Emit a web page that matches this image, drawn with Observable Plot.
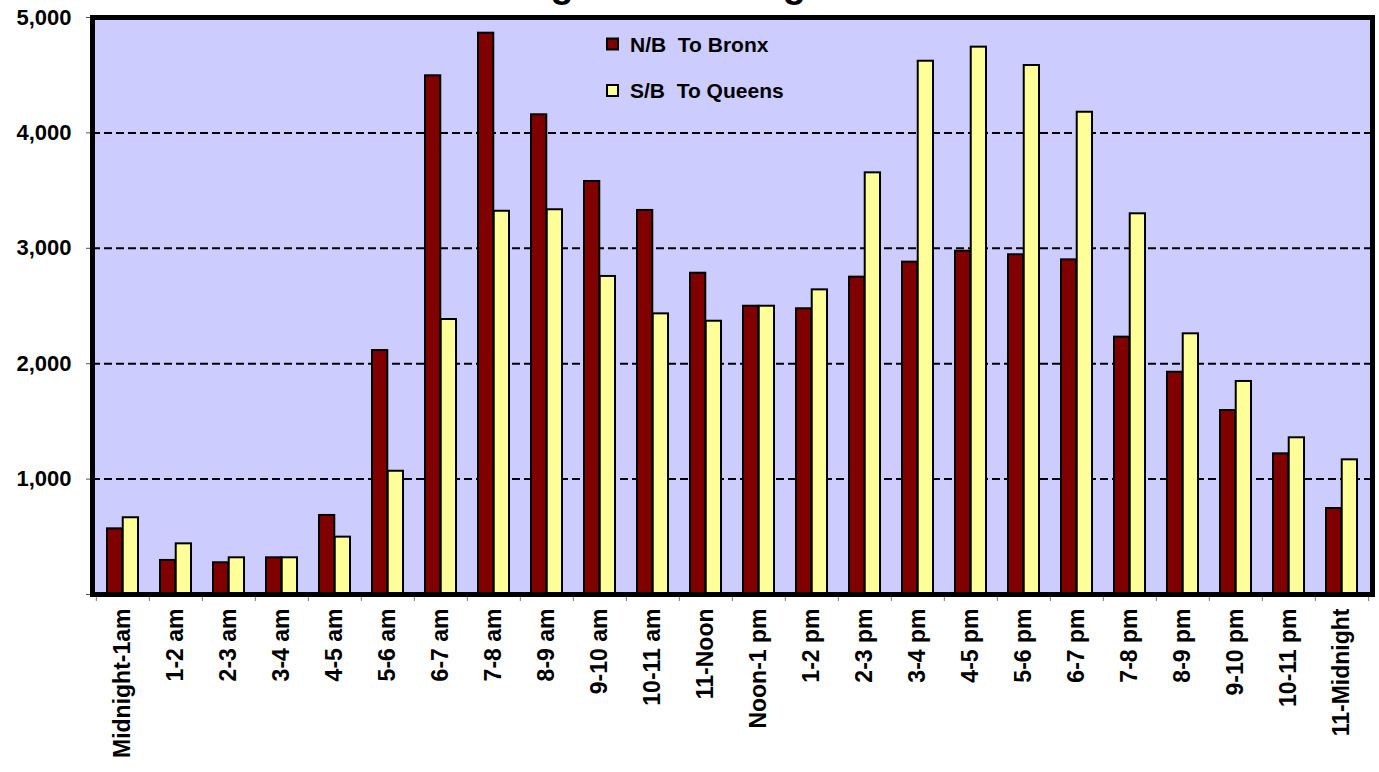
<!DOCTYPE html>
<html>
<head>
<meta charset="utf-8">
<script src="https://cdn.jsdelivr.net/npm/d3@7"></script>
<script src="https://cdn.jsdelivr.net/npm/@observablehq/plot@0.6"></script>
<style>
  html, body { margin: 0; padding: 0; background: #fff; }
  #wrap { position: relative; width: 1379px; height: 772px; overflow: hidden; font-family: "Liberation Sans", Arial, sans-serif; }
  #overlay { position: absolute; left: 0; top: 0; pointer-events: none; overflow: visible; }
</style>
</head>
<body>
<div id="wrap"></div>
<script>
// ---- data ----
const hours = ["Midnight-1am","1-2 am","2-3 am","3-4 am","4-5 am","5-6 am","6-7 am","7-8 am","8-9 am","9-10 am","10-11 am","11-Noon","Noon-1 pm","1-2 pm","2-3 pm","3-4 pm","4-5 pm","5-6 pm","6-7 pm","7-8 pm","8-9 pm","9-10 pm","10-11 pm","11-Midnight"];
const toBronx  = [569, 295, 275, 318, 685, 2114, 4495, 4864, 4157, 3579, 3328, 2784, 2498, 2476, 2750, 2880, 2975, 2944, 2900, 2230, 1926, 1594, 1219, 745];
const toQueens = [665, 439, 318, 318, 497, 1068, 2383, 3321, 3334, 2756, 2432, 2368, 2498, 2640, 3654, 4621, 4743, 4584, 4179, 3299, 2259, 1846, 1358, 1167];
const seriesNames = ["N/B  To Bronx", "S/B  To Queens"];
const yTicks = [0, 1000, 2000, 3000, 4000, 5000];
const gridValues = [1000, 2000, 3000, 4000];
const titleText = "Throgs Neck Bridge Traffic Volumes";

const rows = hours.map((h, i) => ({hour: h, nb: toBronx[i], sb: toQueens[i]}));

const W = 1379, H = 772;
const mL = 92, mR = 7, mT = 17, mB = 178;
const pInner = 0.41, pOuter = 0.205;
const step = (W - mL - mR) / (hours.length - pInner + 2 * pOuter);
const bw = step * (1 - pInner);
const fmt = d3.format(",");
const bronxColor = "#800000", queensColor = "#FFFF99", bg = "#CCCCFF";

const chart = Plot.plot({
  width: W, height: H,
  marginLeft: mL, marginRight: mR, marginTop: mT, marginBottom: mB,
  style: {fontFamily: "'Liberation Sans', Arial, sans-serif", fontWeight: "bold", color: "black", background: "white", overflow: "visible"},
  x: {domain: hours, paddingInner: pInner, paddingOuter: pOuter, label: null},
  y: {domain: [0, 5000], label: null},
  marks: [
    Plot.frame({fill: bg, stroke: null}),
    Plot.ruleY(gridValues, {stroke: "black", strokeWidth: 2, strokeDasharray: "8,4"}),
    Plot.barY(rows, {x: "hour", y: "nb", fill: bronxColor, stroke: "black", strokeWidth: 2, insetRight: bw / 2}),
    Plot.barY(rows, {x: "hour", y: "sb", fill: queensColor, stroke: "black", strokeWidth: 2, insetLeft: bw / 2}),
    Plot.axisY({ticks: yTicks, tickFormat: d => d === 0 ? "" : fmt(d), tickSize: 6, tickPadding: 15, fontSize: 22, fontWeight: "bold", stroke: "#555"}),
    Plot.axisX({ticks: hours, tickFormat: () => "", tickSize: 7, dx: -step / 2, stroke: "#777"}),
    Plot.axisX({ticks: [hours[hours.length - 1]], tickFormat: () => "", tickSize: 7, dx: step / 2, stroke: "#777"}),
    Plot.axisX({ticks: hours, tickSize: 0, tickPadding: 14, tickRotate: -90, fontSize: 23, fontWeight: "bold"}),
    Plot.frame({stroke: "black", strokeWidth: 5})
  ]
});

const wrap = document.getElementById("wrap");
wrap.appendChild(chart);

// overlay: clipped title and legend
const ns = "http://www.w3.org/2000/svg";
const ov = document.createElementNS(ns, "svg");
ov.setAttribute("id", "overlay");
ov.setAttribute("width", W);
ov.setAttribute("height", H);
const title = document.createElementNS(ns, "text");
title.setAttribute("x", 466);
title.setAttribute("y", -3);
title.setAttribute("font-size", 38);
title.setAttribute("font-weight", "bold");
title.setAttribute("font-family", "'Liberation Sans', Arial, sans-serif");
title.textContent = titleText;
ov.appendChild(title);

const legend = [
  {name: seriesNames[0], color: bronxColor, y: 44},
  {name: seriesNames[1], color: queensColor, y: 90.5}
];
for (const l of legend) {
  const r = document.createElementNS(ns, "rect");
  r.setAttribute("x", 607); r.setAttribute("y", l.y - 5.5);
  r.setAttribute("width", 11); r.setAttribute("height", 11);
  r.setAttribute("fill", l.color); r.setAttribute("stroke", "black"); r.setAttribute("stroke-width", 2);
  ov.appendChild(r);
  const t = document.createElementNS(ns, "text");
  t.setAttribute("x", 630); t.setAttribute("y", l.y + 7.5);
  t.setAttribute("font-size", 21); t.setAttribute("font-weight", "bold");
  t.setAttribute("font-family", "'Liberation Sans', Arial, sans-serif");
  t.setAttribute("xml:space", "preserve");
  t.style.whiteSpace = "pre";
  t.textContent = l.name;
  ov.appendChild(t);
}
wrap.appendChild(ov);
</script>
</body>
</html>
